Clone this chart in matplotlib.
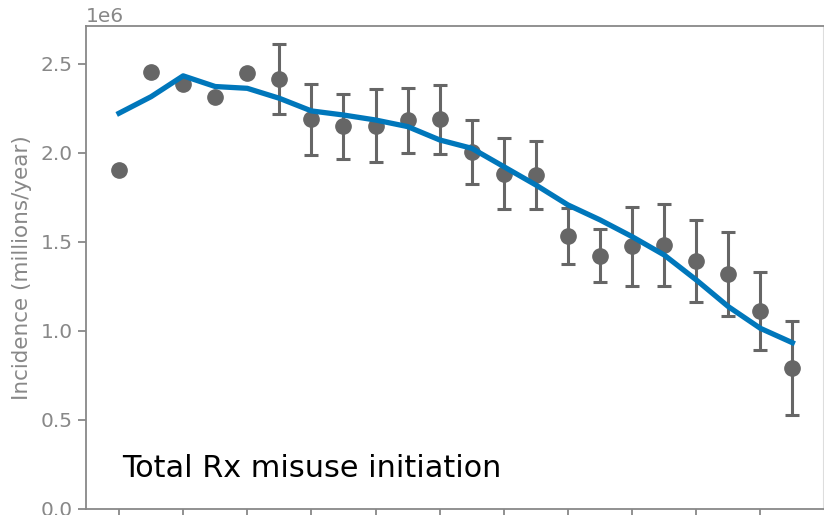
import numpy as np
import matplotlib
matplotlib.use("Agg")
import matplotlib.pyplot as plt

# years of the survey
years = list(range(1995, 2017))

# observed incidence (counts per year)
obs = [1.906e6, 2.455e6, 2.388e6, 2.313e6, 2.451e6, 2.416e6, 2.189e6, 2.152e6,
       2.152e6, 2.185e6, 2.189e6, 2.006e6, 1.882e6, 1.876e6, 1.535e6, 1.423e6,
       1.478e6, 1.483e6, 1.393e6, 1.322e6, 1.114e6, 0.790e6]
# upper / lower bounds of the error bars (none for the first five years)
err_hi = [np.nan, np.nan, np.nan, np.nan, np.nan, 2.611e6, 2.388e6, 2.331e6,
          2.358e6, 2.363e6, 2.380e6, 2.185e6, 2.084e6, 2.067e6, 1.693e6, 1.571e6,
          1.695e6, 1.712e6, 1.624e6, 1.558e6, 1.333e6, 1.056e6]
err_lo = [np.nan, np.nan, np.nan, np.nan, np.nan, 2.221e6, 1.987e6, 1.968e6,
          1.948e6, 2.002e6, 1.993e6, 1.826e6, 1.685e6, 1.685e6, 1.376e6, 1.274e6,
          1.251e6, 1.251e6, 1.161e6, 1.086e6, 0.893e6, 0.526e6]

# model fit
fit = [2.223e6, 2.316e6, 2.433e6, 2.373e6, 2.363e6, 2.307e6, 2.236e6, 2.213e6,
       2.185e6, 2.148e6, 2.073e6, 2.026e6, 1.923e6, 1.820e6, 1.708e6, 1.624e6,
       1.530e6, 1.427e6, 1.287e6, 1.137e6, 1.015e6, 0.934e6]

gray = "#666666"
axgray = "#888888"

fig = plt.figure(figsize=(8.24, 5.15), dpi=100)
ax = fig.add_axes([86 / 824, 6 / 515, 737.5 / 824, 483 / 515])

obs_a = np.array(obs)
hi = np.array(err_hi)
lo = np.array(err_lo)
yerr = np.vstack([obs_a - lo, hi - obs_a])
yerr = np.nan_to_num(yerr, nan=0.0)
has_err = ~np.isnan(hi)
yrs = np.array(years)

ax.errorbar(yrs[has_err], obs_a[has_err], yerr=yerr[:, has_err], fmt="none",
            ecolor=gray, elinewidth=2.2, capsize=5.2, capthick=2.2, zorder=2)
ax.plot(yrs, obs_a, "o", color=gray, ms=11, zorder=3)
ax.plot(years, fit, color="#0077BB", lw=3.8, zorder=4)

ax.set_xlim(1993.97, 2016.97)
ax.set_ylim(0, 2.713e6)
ax.set_xticks(range(1995, 2016, 2))
ax.set_yticks([0, 0.5e6, 1.0e6, 1.5e6, 2.0e6, 2.5e6])

ax.set_ylabel("Incidence (millions/year)", color=axgray, fontsize=15.5, labelpad=6)
ax.tick_params(colors=axgray, labelsize=14.5, length=6, width=1.3)
ax.yaxis.get_offset_text().set_fontsize(14.5)
ax.yaxis.get_offset_text().set_color(axgray)
for s in ["left", "bottom", "top"]:
    ax.spines[s].set_color(axgray)
    ax.spines[s].set_linewidth(1.3)
ax.spines["right"].set_color("#dddddd")

ax.text(0.049, 0.084, "Total Rx misuse initiation", transform=ax.transAxes,
        fontsize=21.8, color="black", va="center")

fig.savefig("out.png", dpi=100)
